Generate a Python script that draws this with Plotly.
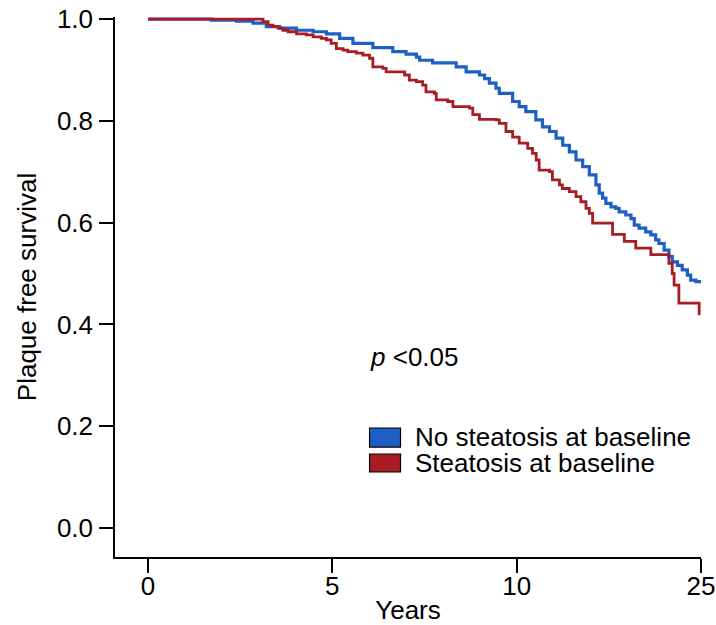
import plotly.graph_objects as go

# ---- data ----
no_steatosis_t = [0, 1.72, 2.40, 2.85, 3.21, 3.57, 4.03, 4.48, 4.84, 5.20, 5.56, 6.10, 6.64, 7.00,
                  7.28, 7.37, 7.72, 8.36, 8.63, 8.99, 9.13, 9.26, 9.44, 9.53, 9.89, 10.07, 10.25,
                  10.52, 10.70, 10.89, 11.07, 11.25, 11.43, 11.61, 11.79, 11.97, 12.15, 12.24,
                  12.33, 12.42, 12.56, 12.69, 12.78, 12.96, 13.10, 13.19, 13.32, 13.50, 13.64,
                  13.77, 13.86, 14.00, 14.13, 14.22, 14.36, 14.49, 14.63, 14.72, 14.86, 14.99]
no_steatosis_s = [1.0, 0.998, 0.996, 0.992, 0.985, 0.982, 0.978, 0.975, 0.971, 0.962, 0.952, 0.944,
                  0.936, 0.931, 0.925, 0.919, 0.914, 0.906, 0.896, 0.890, 0.883, 0.874, 0.864,
                  0.854, 0.838, 0.828, 0.818, 0.802, 0.788, 0.779, 0.766, 0.752, 0.739, 0.723,
                  0.710, 0.694, 0.674, 0.658, 0.648, 0.638, 0.631, 0.628, 0.621, 0.615, 0.608,
                  0.595, 0.589, 0.582, 0.576, 0.566, 0.559, 0.546, 0.533, 0.523, 0.516, 0.507,
                  0.497, 0.487, 0.484, 0.481]

steatosis_t = [0, 3.12, 3.26, 3.39, 3.53, 3.66, 3.80, 4.03, 4.30, 4.48, 4.70, 4.84, 4.97, 5.11,
               5.29, 5.42, 5.65, 5.83, 6.01, 6.10, 6.37, 6.46, 6.96, 7.09, 7.28, 7.45, 7.54, 7.77,
               7.82, 8.13, 8.27, 8.72, 8.81, 8.99, 9.44, 9.53, 9.71, 9.89, 10.07, 10.30, 10.43,
               10.53, 10.61, 10.89, 10.97, 11.16, 11.24, 11.43, 11.61, 11.74, 11.88, 11.97, 12.06,
               12.60, 12.92, 13.23, 13.64, 14.13, 14.22, 14.27, 14.40, 14.40, 14.95, 14.95]
steatosis_s = [1.0, 0.995, 0.988, 0.985, 0.982, 0.978, 0.975, 0.971, 0.969, 0.965, 0.962, 0.959,
               0.952, 0.942, 0.939, 0.936, 0.933, 0.929, 0.923, 0.906, 0.903, 0.896, 0.890, 0.880,
               0.877, 0.870, 0.857, 0.854, 0.841, 0.838, 0.828, 0.825, 0.812, 0.803, 0.802, 0.795,
               0.779, 0.768, 0.756, 0.746, 0.736, 0.723, 0.703, 0.700, 0.684, 0.674, 0.667, 0.661,
               0.651, 0.641, 0.628, 0.618, 0.599, 0.577, 0.563, 0.550, 0.537, 0.520, 0.500, 0.477,
               0.461, 0.442, 0.442, 0.418]

series_names = ["No steatosis at baseline", "Steatosis at baseline"]
series_colors = ["#1E5FC6", "#A81C23"]

x_tick_vals = [0, 5, 10, 15]
x_tick_text = ["0", "5", "10", "25"]
y_tick_vals = [0.0, 0.2, 0.4, 0.6, 0.8, 1.0]

FONT = "Liberation Sans, Arial, Helvetica, sans-serif"
FS = 26

fig = go.Figure()
fig.add_trace(go.Scatter(x=no_steatosis_t, y=no_steatosis_s, mode="lines", line_shape="hv",
                         line=dict(color=series_colors[0], width=3.2), name=series_names[0],
                         showlegend=False))
fig.add_trace(go.Scatter(x=steatosis_t, y=steatosis_s, mode="lines", line_shape="hv",
                         line=dict(color=series_colors[1], width=2.8), name=series_names[1],
                         showlegend=False))

# manual legend (boxes + labels)
legend_boxes = [(0.1965, 0.159), (0.1454, 0.110)]
legend_text_y = [0.1788, 0.1277]
for (y0, y1), ty, nm, col in zip(legend_boxes, legend_text_y, series_names, series_colors):
    fig.add_shape(type="rect", xref="x", yref="y", x0=6.01, x1=6.85, y0=y0, y1=y1,
                  fillcolor=col, line=dict(color="black", width=1.2))
    fig.add_annotation(x=7.18, y=ty, xref="x", yref="y", text=nm, showarrow=False,
                       xanchor="left", yanchor="middle", height=22,
                       font=dict(size=FS, color="black", family=FONT))

fig.add_annotation(x=5.96, y=0.336, xref="x", yref="y", text="<i>p</i> &lt;0.05", showarrow=False,
                   xanchor="left", yanchor="middle", font=dict(size=FS, color="black", family=FONT))

fig.update_layout(
    width=716, height=625,
    margin=dict(l=115, r=15, t=17, b=68),
    paper_bgcolor="white", plot_bgcolor="white",
    font=dict(family=FONT, size=FS, color="black"),
    xaxis=dict(range=[-0.894, 15.0], tickvals=x_tick_vals, ticktext=x_tick_text,
               showgrid=False, zeroline=False, showline=True, linecolor="black", linewidth=1.5,
               ticks="outside", ticklen=14, tickwidth=1.5, tickcolor="black",
               tickfont=dict(size=FS), automargin=False, ticklabelstandoff=-9,
               ticklabeloverflow="allow",
               title=dict(text="Years", font=dict(size=FS), standoff=12)),
    yaxis=dict(range=[-0.057, 1.004], tickvals=y_tick_vals, tickformat=".1f",
               showgrid=False, zeroline=False, showline=True, linecolor="black", linewidth=1.5,
               ticks="outside", ticklen=14, tickwidth=1.5, tickcolor="black",
               tickfont=dict(size=FS), automargin=False, ticklabelstandoff=1,
               ticklabeloverflow="allow",
               title=dict(text="Plaque free survival", font=dict(size=FS), standoff=13)),
)

fig.write_html("out.html", config={"displayModeBar": False},
               post_script="document.body.style.margin='0';")
